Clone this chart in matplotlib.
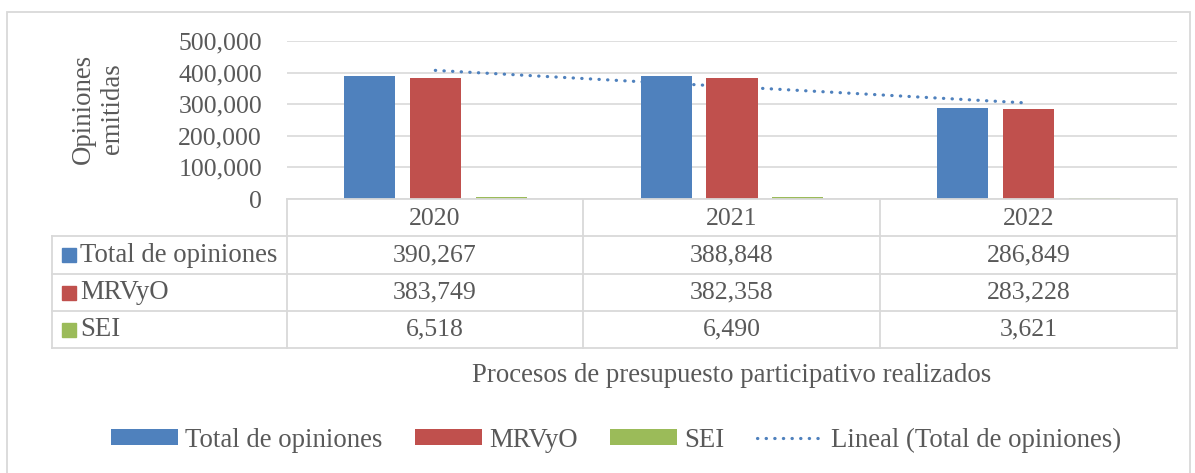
import numpy as np
import matplotlib
matplotlib.use("Agg")
import matplotlib.pyplot as plt
from matplotlib.patches import Rectangle, Patch
from matplotlib.lines import Line2D

# data
years = ["2020", "2021", "2022"]
total_opiniones = [390267, 388848, 286849]
mrvyo = [383749, 382358, 283228]
sei = [6518, 6490, 3621]
series_names = ["Total de opiniones", "MRVyO", "SEI"]
series_colors = ["#4F81BD", "#C0504D", "#9BBB59"]
y_ticks = [0, 100000, 200000, 300000, 400000, 500000]

W, H = 1195, 473
grey_txt = "#595959"
grid_col = "#D9D9D9"
fs = 18.5      # numbers
fs_lab = 19.3  # words

plt.rcParams["font.family"] = ["Liberation Serif", "DejaVu Serif"]

fig = plt.figure(figsize=(W / 100, H / 100), dpi=100)


def fx(x):
    return x / W


def fy(y):
    return 1 - y / H


# plot area in pixel coords
left, right, top, base = 287, 1177, 41, 199
ax = fig.add_axes([fx(left), fy(base), fx(right - left), fy(top) - fy(base)])

all_series = [total_opiniones, mrvyo, sei]
x = np.arange(len(years))
step = 0.222
width = 0.172
for i, vals in enumerate(all_series):
    ax.bar(x + (i - 1) * step, vals, width=width, color=series_colors[i],
           linewidth=0, zorder=3)

# linear trendline of the total (sits behind the bars)
coef = np.polyfit(x, total_opiniones, 1)
trend = np.polyval(coef, x)
ax.plot(x, trend, color="#4F81BD", linewidth=2.3, linestyle=(0, (0.1, 2.6)),
        dash_capstyle="round", zorder=2)

ax.set_xlim(-0.5, len(years) - 0.5)
ax.set_ylim(0, 500000)
ax.set_yticks(y_ticks)
ax.set_yticklabels([f"{v:,}" for v in y_ticks])
ax.set_xticks([])
ax.tick_params(axis="y", length=0, pad=18, labelsize=fs, labelcolor=grey_txt)
ax.grid(axis="y", color=grid_col, linewidth=1.2, zorder=0)
for s in ax.spines.values():
    s.set_visible(False)

# y label
fig.text(fx(98), fy(109), "Opiniones\nemitidas", rotation=90, ha="center",
         va="center", multialignment="center", fontsize=fs_lab, color=grey_txt,
         linespacing=1.2)

# data table
col_edges = [287, 583, 880, 1177]
row_edges = [199, 236, 274, 311, 348]
tbl_left = 52


def hline(x0, x1, y):
    fig.add_artist(Line2D([fx(x0), fx(x1)], [fy(y), fy(y)], color=grid_col,
                          linewidth=1.3, zorder=1))


def vline(x, y0, y1):
    fig.add_artist(Line2D([fx(x), fx(x)], [fy(y0), fy(y1)], color=grid_col,
                          linewidth=1.3, zorder=1))


hline(col_edges[0], col_edges[-1], row_edges[0])
for y in row_edges[1:]:
    hline(tbl_left, col_edges[-1], y)
for xe in col_edges:
    vline(xe, row_edges[0], row_edges[-1])
vline(tbl_left, row_edges[1], row_edges[-1])

for j, yr in enumerate(years):
    cx = (col_edges[j] + col_edges[j + 1]) / 2
    fig.text(fx(cx), fy((row_edges[0] + row_edges[1]) / 2 + 1), yr, ha="center",
             va="center", fontsize=fs, color=grey_txt)

for i, (name, vals) in enumerate(zip(series_names, all_series)):
    cy = (row_edges[i + 1] + row_edges[i + 2]) / 2
    fig.add_artist(Rectangle((fx(62), fy(cy + 7)), fx(14), fy(cy - 7) - fy(cy + 7),
                             color=series_colors[i]))
    fig.text(fx(80), fy(cy), name, ha="left", va="center", fontsize=fs_lab,
             color=grey_txt)
    for j, v in enumerate(vals):
        cx = (col_edges[j] + col_edges[j + 1]) / 2
        fig.text(fx(cx), fy(cy), f"{v:,}", ha="center", va="center",
                 fontsize=fs, color=grey_txt)

# x axis title
fig.text(fx((left + right) / 2), fy(375), "Procesos de presupuesto participativo realizados",
         ha="center", va="center", fontsize=fs_lab, color=grey_txt)

# legend
handles = [Patch(facecolor=c) for c in series_colors]
handles.append(Line2D([0], [0], color="#4F81BD", linewidth=2.3,
                      linestyle=(0, (0.1, 2.6)), dash_capstyle="round"))
labels = series_names + ["Lineal (Total de opiniones)"]
leg = fig.legend(handles, labels, loc="center", bbox_to_anchor=(fx(616), fy(440)),
                 ncol=4, frameon=False, fontsize=fs_lab, handlelength=2.5,
                 handleheight=0.55, handletextpad=0.28, columnspacing=1.2,
                 labelcolor=grey_txt)

# outer chart border
fig.add_artist(Rectangle((fx(7), -0.1), fx(1190 - 7), fy(12) + 0.1,
                         fill=False, edgecolor=grid_col, linewidth=1.3))

fig.savefig("out.png", dpi=100)
